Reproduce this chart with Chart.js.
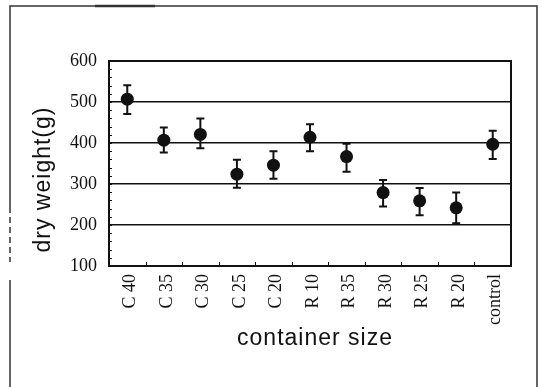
<!DOCTYPE html>
<html>
<head>
<meta charset="utf-8">
<script src="https://cdn.jsdelivr.net/npm/chart.js@4/dist/chart.umd.min.js"></script>
<style>
    html, body { margin: 0; padding: 0; background: #fff; }
    #wrap { width: 542px; height: 387px; }
</style>
</head>
<body>
<div id="wrap"><canvas id="chart" width="542" height="387"></canvas></div>
<script>
// Data
const containerSizes = ['C 40', 'C 35', 'C 30', 'C 25', 'C 20', 'R 10', 'R 35', 'R 30', 'R 25', 'R 20', 'control'];
const dryWeight = [507, 407, 421, 324, 346, 414, 367, 279, 259, 242, 397];
const errorTop = [541, 438, 460, 359, 380, 446, 398, 310, 290, 279, 430];
const errorBottom = [471, 377, 387, 291, 313, 380, 330, 245, 224, 204, 361];
const yTickValues = [100, 200, 300, 400, 500, 600];
const yTitle = 'dry weight(g)';
const xTitle = 'container size';

const INK = '#111';
const TITLE_FONT = '23px "Liberation Sans", Arial, sans-serif';

// Error bars, inner minor ticks, plot box, outer frame and axis titles
const decorations = {
    id: 'decorations',
    beforeDatasetsDraw(chart) {
        const { ctx, scales: { x, y } } = chart;
        ctx.save();
        ctx.strokeStyle = INK;
        ctx.lineWidth = 2;
        errorTop.forEach((top, i) => {
            const px = x.getPixelForValue(i);
            const yt = y.getPixelForValue(top);
            const yb = y.getPixelForValue(errorBottom[i]);
            ctx.beginPath();
            ctx.moveTo(px, yt);
            ctx.lineTo(px, yb);
            ctx.moveTo(px - 4, yt);
            ctx.lineTo(px + 4, yt);
            ctx.moveTo(px - 4, yb);
            ctx.lineTo(px + 4, yb);
            ctx.stroke();
        });
        ctx.restore();
    },
    afterDraw(chart) {
        const { ctx, chartArea: area, scales: { x, y } } = chart;
        ctx.save();
        ctx.strokeStyle = INK;

        // plot box
        ctx.lineWidth = 2;
        ctx.strokeRect(area.left, area.top, area.right - area.left, area.bottom - area.top);

        // minor ticks pointing inwards
        ctx.lineWidth = 1;
        ctx.beginPath();
        for (let v = y.min; v <= y.max; v += 20) {
            const py = Math.round(y.getPixelForValue(v)) + 0.5;
            ctx.moveTo(area.left, py);
            ctx.lineTo(area.left + 3, py);
        }
        for (let i = 1; i < containerSizes.length; i++) {
            const px = Math.round((x.getPixelForValue(i - 1) + x.getPixelForValue(i)) / 2) + 0.5;
            ctx.moveTo(px, area.bottom);
            ctx.lineTo(px, area.bottom - 4);
        }
        ctx.stroke();

        // outer frame of the scanned figure
        ctx.strokeStyle = '#333';
        ctx.lineWidth = 1.5;
        ctx.beginPath();
        ctx.moveTo(10, 400);
        ctx.lineTo(10, 280);
        ctx.moveTo(10, 207);
        ctx.lineTo(10, 6);
        ctx.lineTo(537, 6);
        ctx.lineTo(537, 400);
        ctx.stroke();
        ctx.setLineDash([6, 4]);
        ctx.beginPath();
        ctx.moveTo(10, 207);
        ctx.lineTo(10, 262);
        ctx.stroke();
        ctx.setLineDash([]);
        ctx.lineWidth = 2.5;
        ctx.beginPath();
        ctx.moveTo(95, 6);
        ctx.lineTo(155, 6);
        ctx.stroke();

        // axis titles, slightly letter-spaced like the original
        ctx.fillStyle = INK;
        ctx.font = TITLE_FONT;
        ctx.letterSpacing = '1px';
        ctx.textAlign = 'center';
        ctx.textBaseline = 'middle';
        ctx.fillText(xTitle, (area.left + area.right) / 2 + 5, area.bottom + 73);
        ctx.translate(area.left - 65, (area.top + area.bottom) / 2 + 16);
        ctx.rotate(-Math.PI / 2);
        ctx.fillText(yTitle, 0, 0);
        ctx.restore();
    }
};

new Chart(document.getElementById('chart'), {
    type: 'line',
    data: {
        labels: containerSizes,
        datasets: [{
            label: yTitle,
            data: dryWeight,
            showLine: false,
            pointRadius: 6.5,
            pointHoverRadius: 6.5,
            pointBackgroundColor: INK,
            pointBorderColor: INK,
            pointBorderWidth: 0
        }]
    },
    options: {
        responsive: false,
        animation: false,
        layout: { padding: { left: 0, top: 61, right: 31, bottom: 0 } },
        plugins: {
            legend: { display: false },
            tooltip: { enabled: false }
        },
        scales: {
            x: {
                type: 'category',
                offset: true,
                grid: { display: false, drawTicks: false },
                border: { display: true, color: INK, width: 2 },
                ticks: {
                    autoSkip: false,
                    minRotation: 90,
                    maxRotation: 90,
                    padding: 8,
                    labelOffset: 3,
                    color: INK,
                    font: { family: '"Liberation Serif", serif', size: 18 }
                },
                afterFit(scale) { scale.height = 121; }
            },
            y: {
                min: 100,
                max: 600,
                afterBuildTicks(scale) {
                    scale.ticks = yTickValues.map(v => ({ value: v }));
                },
                grid: { color: INK, lineWidth: 1.5, drawTicks: false },
                border: { display: true, color: INK, width: 2 },
                ticks: {
                    padding: 12,
                    color: INK,
                    font: { family: '"Liberation Serif", serif', size: 18 }
                },
                afterFit(scale) { scale.width = 109; }
            }
        }
    },
    plugins: [decorations]
});
</script>
</body>
</html>
